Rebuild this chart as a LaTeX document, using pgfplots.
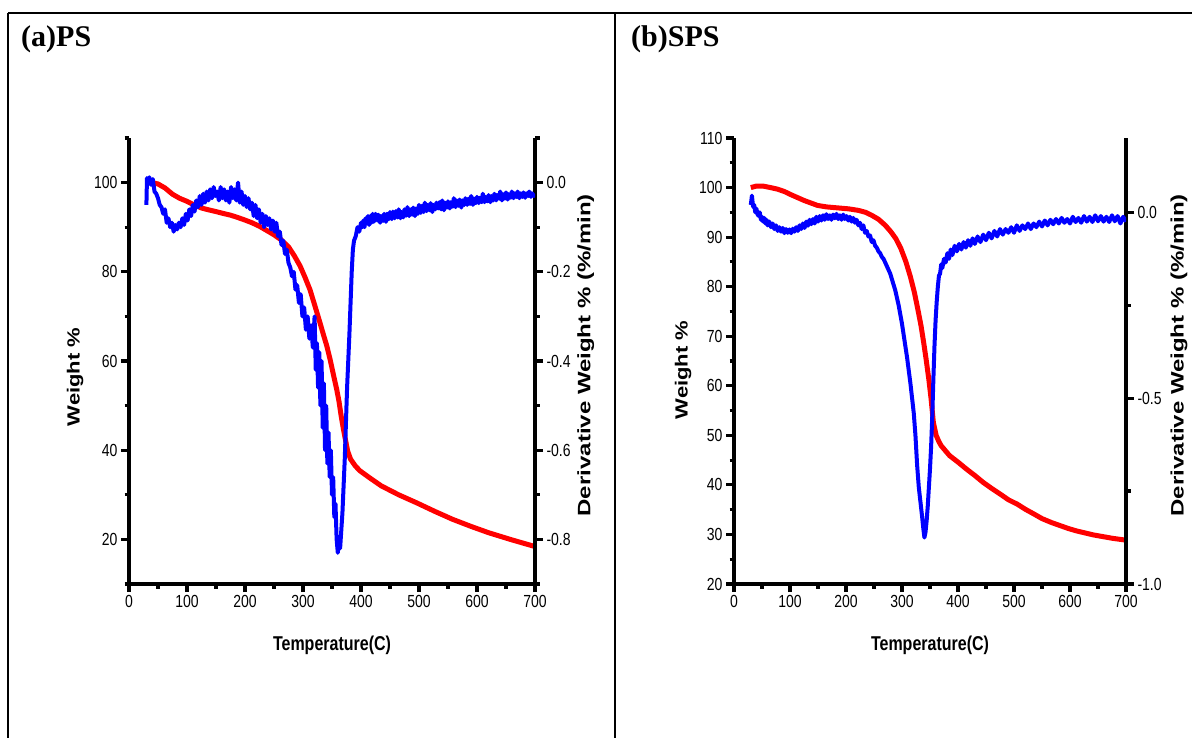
\documentclass[border=0pt]{standalone}
\usepackage{graphicx}
\usepackage{pgfplots}
\pgfplotsset{compat=1.18}
\usepackage{fontspec}
\setmainfont{Liberation Sans}
\newfontfamily\narrow[FakeStretch=0.80]{Liberation Sans}
\newfontfamily\narrowb[FakeStretch=0.80]{Liberation Sans}
\newfontfamily\serifb{Liberation Serif}
\definecolor{tgared}{RGB}{255,0,0}
\definecolor{tgablue}{RGB}{0,0,255}

\pgfplotstableread{
T W
30 100
40 100
50 99.7
62 98.8
75 97.4
87 96.5
100 95.8
112 95
125 94.3
137 93.9
150 93.5
162 93.1
175 92.7
187 92.2
200 91.6
212 91
225 90.2
237 89.3
250 88.3
262 87.2
275 85.6
285 83.6
295 81.3
303 78.9
312 76
320 72.6
329 68.7
335 66
341 63.4
347 60.2
353 56.6
358 53.7
362 51
366 47.5
370 44.5
373 42.5
377 39.8
382 38
390 36.5
398 35.4
415 33.8
435 32
465 30
496 28.2
527 26.3
558 24.5
590 22.9
620 21.5
660 19.9
700 18.4
}\psweight

\pgfplotstableread{
T D
30 -0.05
31 0.01
33 0.005
35 0.012
38 -0.005
41 0.008
44 -0.02
47 -0.025
50 -0.035
53 -0.05
56 -0.055
59 -0.07
62 -0.06
65 -0.09
68 -0.08
71 -0.1
74 -0.09
77 -0.11
80 -0.095
83 -0.105
86 -0.09
89 -0.1
92 -0.08
95 -0.095
98 -0.07
101 -0.085
104 -0.06
107 -0.075
110 -0.05
113 -0.065
116 -0.04
119 -0.055
122 -0.03
125 -0.05
128 -0.025
131 -0.045
134 -0.02
137 -0.04
140 -0.015
143 -0.035
146 -0.01
149 -0.03
152 -0.02
155 -0.04
158 -0.01
161 -0.035
164 -0.015
167 -0.04
170 -0.02
173 -0.045
176 -0.01
179 -0.035
182 -0.015
185 -0.04
188 0.0
191 -0.045
194 -0.02
197 -0.05
200 -0.03
203 -0.055
206 -0.035
209 -0.06
212 -0.045
215 -0.075
218 -0.05
221 -0.08
224 -0.06
227 -0.09
230 -0.07
233 -0.1
236 -0.075
239 -0.095
242 -0.08
245 -0.105
248 -0.085
251 -0.11
254 -0.09
257 -0.12
260 -0.11
263 -0.14
266 -0.13
269 -0.16
272 -0.15
275 -0.18
278 -0.19
281 -0.21
284 -0.2
287 -0.24
290 -0.23
293 -0.27
296 -0.25
299 -0.3
302 -0.28
305 -0.33
308 -0.3
311 -0.35
314 -0.32
317 -0.37
320 -0.3
322 -0.42
324 -0.36
326 -0.46
328 -0.38
330 -0.5
332 -0.4
334 -0.55
336 -0.45
338 -0.6
340 -0.5
342 -0.63
344 -0.56
346 -0.66
348 -0.6
350 -0.7
352 -0.66
354 -0.75
356 -0.72
358 -0.8
360 -0.83
362 -0.8
364 -0.82
366 -0.78
368 -0.74
370 -0.68
372 -0.62
374 -0.54
376 -0.46
378 -0.4
380 -0.34
382 -0.27
384 -0.2
386 -0.15
388 -0.13
391 -0.12
394 -0.1
397 -0.11
400 -0.09
402 -0.1
404 -0.085
406 -0.1
408 -0.08
410 -0.09
412 -0.075
414 -0.095
416 -0.075
418 -0.09
420 -0.07
422 -0.088
425 -0.07
428 -0.085
430 -0.072
433 -0.09
435 -0.075
438 -0.086
440 -0.07
443 -0.088
445 -0.07
448 -0.082
450 -0.066
453 -0.082
455 -0.065
458 -0.08
460 -0.064
463 -0.078
465 -0.06
468 -0.08
470 -0.066
473 -0.078
475 -0.06
478 -0.074
480 -0.055
483 -0.075
485 -0.06
488 -0.072
490 -0.056
493 -0.075
495 -0.058
498 -0.07
500 -0.05
503 -0.068
505 -0.052
508 -0.066
510 -0.045
513 -0.064
515 -0.05
518 -0.062
520 -0.046
523 -0.066
525 -0.05
528 -0.06
530 -0.045
533 -0.058
535 -0.044
538 -0.06
540 -0.04
543 -0.062
545 -0.045
548 -0.056
550 -0.042
553 -0.058
555 -0.044
558 -0.054
560 -0.035
563 -0.055
565 -0.04
568 -0.052
570 -0.038
573 -0.056
575 -0.04
578 -0.05
580 -0.035
583 -0.05
585 -0.036
588 -0.048
590 -0.03
593 -0.05
595 -0.036
598 -0.046
600 -0.032
603 -0.046
605 -0.034
608 -0.044
610 -0.025
613 -0.044
615 -0.032
618 -0.042
620 -0.028
623 -0.044
625 -0.03
628 -0.04
630 -0.025
633 -0.04
635 -0.028
638 -0.036
640 -0.02
643 -0.04
645 -0.026
648 -0.036
650 -0.022
653 -0.038
655 -0.026
658 -0.034
660 -0.02
663 -0.035
665 -0.024
668 -0.032
670 -0.02
673 -0.035
675 -0.024
678 -0.032
680 -0.022
683 -0.034
685 -0.024
688 -0.03
690 -0.02
693 -0.032
695 -0.024
698 -0.03
700 -0.025
}\psderiv

\pgfplotstableread{
T W
30 100
40 100.3
52 100.3
65 100
77 99.7
90 99.2
101 98.6
113 98
125 97.4
137 96.9
149 96.4
165 96.1
185 95.9
205 95.7
222 95.4
235 95
246 94.4
258 93.6
270 92.4
280 91.1
289 89.7
298 87.7
307 85
315 82
322 78.9
328 75.6
334 72.1
339 68.5
343 65.4
348 61.2
352 57.3
356 52.6
361 50
366 48.7
370 47.9
385 45.9
400 44.6
415 43.2
430 41.9
445 40.5
460 39.3
476 38.1
490 37
506 36.1
520 35.1
536 34.1
550 33.2
567 32.4
582 31.8
597 31.2
612 30.7
627 30.3
642 29.9
657 29.6
677 29.2
700 28.85
}\spsweight

\pgfplotstableread{
T D
30 0.02
32 0.045
34 0.015
36 0.02
38 0.0
40 0.01
42 -0.005
44 -0.01
46 0.0
48 -0.02
50 -0.012
52 -0.025
54 -0.015
56 -0.03
58 -0.02
60 -0.035
63 -0.025
66 -0.04
69 -0.03
72 -0.045
75 -0.035
78 -0.05
81 -0.04
84 -0.052
87 -0.042
90 -0.056
93 -0.045
96 -0.055
99 -0.046
102 -0.056
105 -0.044
108 -0.052
111 -0.04
114 -0.05
117 -0.035
120 -0.045
123 -0.03
126 -0.042
129 -0.025
132 -0.036
135 -0.02
138 -0.032
141 -0.018
144 -0.03
147 -0.012
150 -0.025
153 -0.01
156 -0.022
159 -0.008
162 -0.02
165 -0.005
168 -0.018
171 -0.008
174 -0.02
177 -0.006
180 -0.016
183 -0.004
186 -0.018
189 -0.008
192 -0.02
195 -0.006
198 -0.018
201 -0.01
204 -0.022
207 -0.012
210 -0.025
213 -0.015
216 -0.028
219 -0.02
222 -0.035
225 -0.028
228 -0.045
231 -0.035
234 -0.055
237 -0.05
240 -0.065
243 -0.062
246 -0.08
249 -0.075
252 -0.09
255 -0.095
258 -0.105
261 -0.11
264 -0.12
267 -0.125
270 -0.135
273 -0.145
276 -0.155
279 -0.165
282 -0.18
285 -0.195
288 -0.21
291 -0.23
294 -0.25
297 -0.275
300 -0.3
303 -0.33
306 -0.36
309 -0.39
312 -0.425
315 -0.46
318 -0.5
321 -0.54
324 -0.6
327 -0.68
330 -0.74
333 -0.78
336 -0.82
338 -0.85
340 -0.875
342 -0.86
344 -0.83
346 -0.79
348 -0.74
350 -0.69
352 -0.63
354 -0.55
356 -0.45
358 -0.36
360 -0.29
362 -0.24
364 -0.2
366 -0.17
368 -0.165
370 -0.14
372 -0.15
375 -0.125
378 -0.135
381 -0.11
384 -0.125
387 -0.1
390 -0.115
394 -0.09
398 -0.105
402 -0.085
406 -0.1
410 -0.08
414 -0.095
418 -0.075
422 -0.09
426 -0.07
430 -0.085
435 -0.065
440 -0.08
445 -0.06
450 -0.075
455 -0.055
460 -0.07
465 -0.05
470 -0.065
475 -0.045
480 -0.06
485 -0.045
490 -0.055
495 -0.04
500 -0.055
505 -0.035
510 -0.05
515 -0.035
520 -0.045
525 -0.03
530 -0.045
535 -0.03
540 -0.04
545 -0.025
550 -0.038
555 -0.022
560 -0.035
565 -0.02
570 -0.032
575 -0.018
580 -0.03
585 -0.015
590 -0.028
595 -0.018
600 -0.03
605 -0.012
610 -0.026
615 -0.015
620 -0.028
625 -0.01
630 -0.025
635 -0.012
640 -0.026
645 -0.008
650 -0.024
655 -0.01
660 -0.025
665 -0.012
670 -0.026
675 -0.008
680 -0.024
685 -0.01
690 -0.03
695 -0.012
700 -0.025
}\spsderiv

\pgfplotsset{
  tga/.style={
    scale only axis,
    height=446bp,
    xmin=0, xmax=700,
    xtick={0,100,200,300,400,500,600,700},
    minor xtick={50,150,250,350,450,550,650},
    tick align=outside,
    axis line style={line width=3.4bp, black},
    every tick/.style={line width=3.2bp, black},
    major tick length=8bp,
    minor tick length=4.5bp,
    tick label style={font=\narrow\fontsize{17.5bp}{19bp}\selectfont},
    /pgf/number format/assume math mode=true,
    xlabel={Temperature(C)},
    xlabel style={font=\narrowb\bfseries\fontsize{20bp}{22bp}\selectfont,
      at={(axis description cs:0.5,-0.137)}, anchor=center},
  },
  tgaleft/.style={tga, axis x line*=bottom, axis y line*=left,
    ylabel={\scalebox{1}[0.8]{Weight \%}},
    ylabel style={font=\bfseries\fontsize{22bp}{24bp}\selectfont, anchor=center},
  },
  tgaright/.style={tga, axis x line=none, axis y line*=right,
    xlabel={},
    ylabel={\scalebox{1}[0.75]{Derivative Weight \% (\%/min)}},
    ylabel style={font=\bfseries\fontsize{24bp}{26bp}\selectfont, anchor=center},
    yticklabel style={/pgf/number format/.cd, fixed, fixed zerofill, precision=1},
  },
  bluecurve/.style={tgablue, line width=4bp, line join=round, no markers},
}

\begin{document}
\begin{tikzpicture}
\useasboundingbox (0,0) rectangle (1192bp,-738bp);
% table frame
\draw[line width=1.8bp] (8bp,-13bp) -- (1192bp,-13bp);
\draw[line width=1.8bp] (8bp,-13bp) -- (8bp,-738bp);
\draw[line width=1.8bp] (615bp,-13bp) -- (615bp,-738bp);
\node[anchor=base west, inner sep=0pt, font=\serifb\bfseries\fontsize{30bp}{32bp}\selectfont] at (21bp,-46bp) {(a)PS};
\node[anchor=base west, inner sep=0pt, font=\serifb\bfseries\fontsize{30bp}{32bp}\selectfont] at (631bp,-46bp) {(b)SPS};

% ---------- panel (a) ----------
\begin{axis}[tgaleft, width=406bp, at={(129bp,-584bp)}, anchor=south west,
  ymin=10, ymax=110, ytick={20,40,60,80,100}, minor ytick={10,30,50,70,90,110},
  ylabel style={at={(axis description cs:-0.133,0.464)}}]
\addplot[tgared, line width=5bp, no markers] table[x=T, y=W] {\psweight};
\end{axis}
\begin{axis}[tgaright, width=406bp, at={(129bp,-584bp)}, anchor=south west,
  ymin=-0.9, ymax=0.1, ytick={-0.8,-0.6,-0.4,-0.2,0}, minor ytick={-0.9,-0.7,-0.5,-0.3,-0.1,0.1},
  ylabel style={at={(axis description cs:1.125,0.513)}}]
\addplot[bluecurve] table[x=T, y=D] {\psderiv};
\end{axis}

% ---------- panel (b) ----------
\begin{axis}[tgaleft, width=392bp, at={(734bp,-584bp)}, anchor=south west,
  ymin=20, ymax=110, ytick={20,30,...,110}, minor ytick={25,35,...,105},
  ylabel style={at={(axis description cs:-0.13,0.48)}}]
\addplot[tgared, line width=5bp, no markers] table[x=T, y=W] {\spsweight};
\end{axis}
\begin{axis}[tgaright, width=392bp, at={(734bp,-584bp)}, anchor=south west,
  ymin=-1.0, ymax=0.2, ytick={-1,-0.5,0}, minor ytick={-0.75,-0.25},
  ylabel style={at={(axis description cs:1.135,0.513)}}]
\addplot[bluecurve] table[x=T, y=D] {\spsderiv};
\end{axis}
\end{tikzpicture}
\end{document}
